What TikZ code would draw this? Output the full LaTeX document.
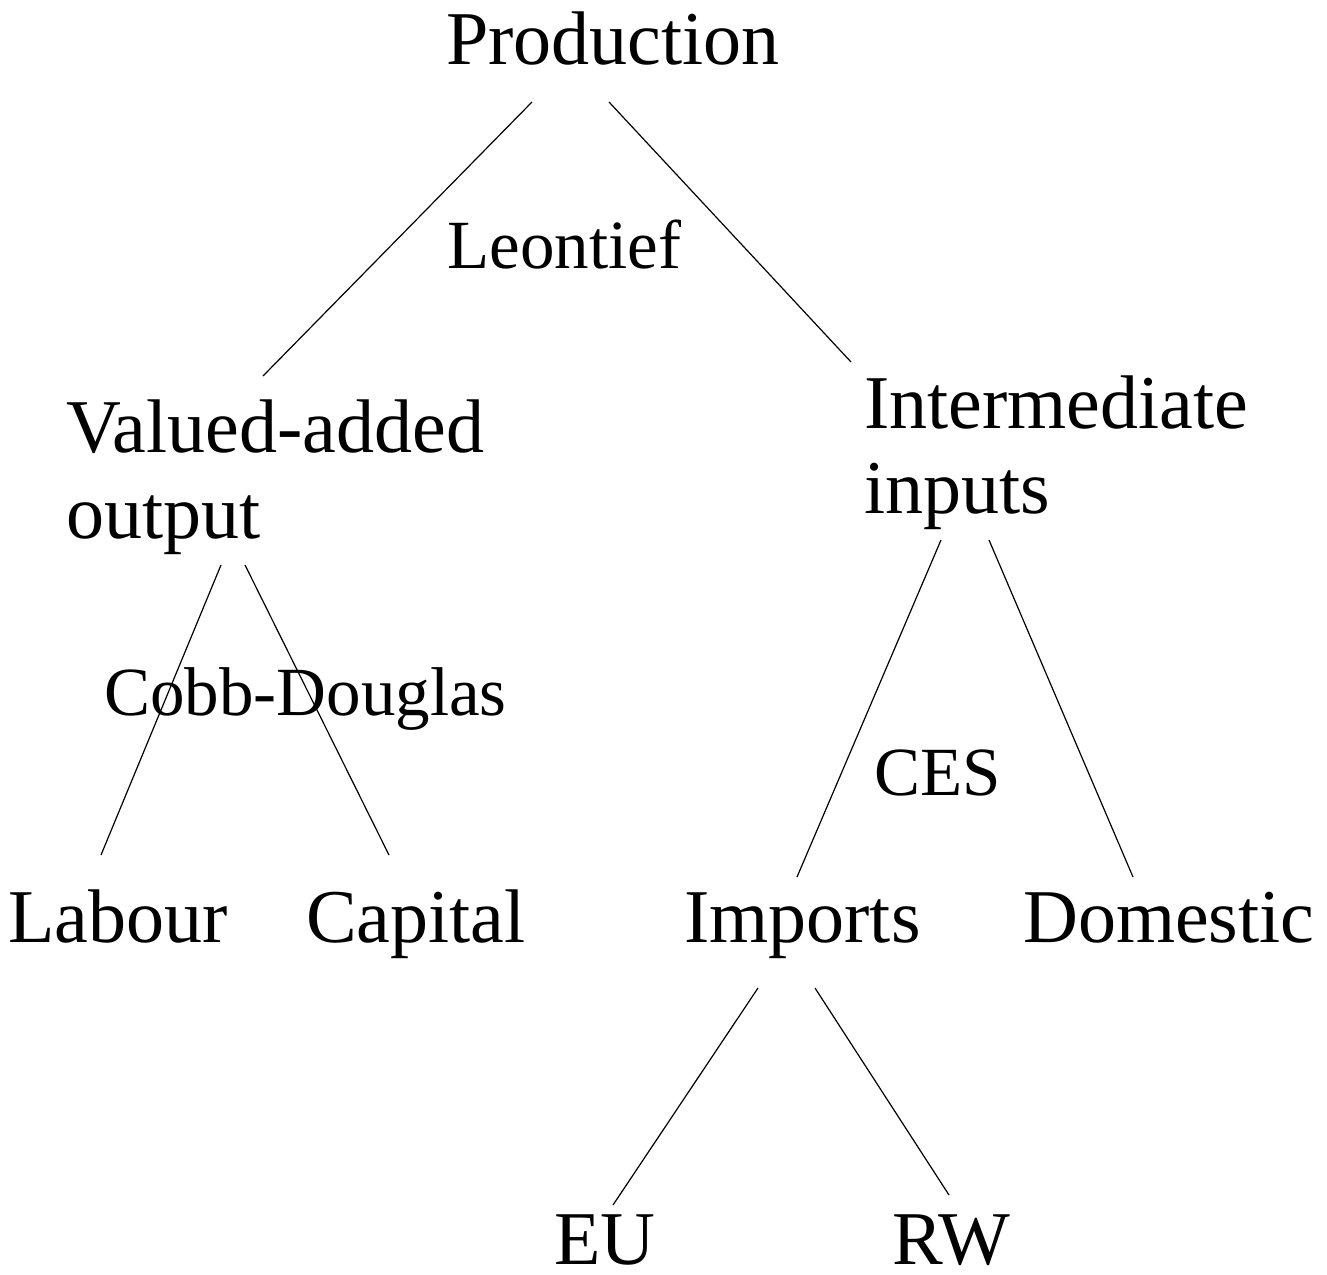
\documentclass[tikz,border=0pt]{standalone}
\usepackage{fontspec}
\setmainfont{Liberation Serif}
\begin{document}
\begin{tikzpicture}[x=1pt,y=-1pt,
  lab/.style={anchor=base west,inner sep=0pt,font=\fontsize{76}{86}\selectfont,align=left},
  rule/.style={anchor=base west,inner sep=0pt,font=\fontsize{69}{80}\selectfont},
  conn/.style={line width=1.2pt}]
\useasboundingbox (0,0) rectangle (1327,1274);
\node[lab] (prod) at (446,64) {Production};
\node[rule] (leon) at (447,268) {Leontief};
\node[lab] (va) at (66,452) {Valued-added};
\node[lab] (vo) at (66,538) {output};
\node[lab] (ii) at (864,428) {Intermediate};
\node[lab] (ip) at (864,513) {inputs};
\node[rule] (cd) at (104,715) {Cobb-Douglas};
\node[rule] (ces) at (874,795) {CES};
\node[lab] (lab) at (8,942) {Labour};
\node[lab] (cap) at (306,942) {Capital};
\node[lab] (imp) at (684,942) {Imports};
\node[lab] (dom) at (1023,942) {Domestic};
\node[lab,text depth=0pt] (eu) at (554,1264) {EU};
\node[lab,text depth=0pt] (rw) at (892,1264) {RW};
\coordinate (p1) at (532,102); \coordinate (v1) at (263,376);
\coordinate (p2) at (609,102); \coordinate (i1) at (851,362);
\coordinate (v2) at (221,565); \coordinate (l1) at (101,855);
\coordinate (v3) at (245,565); \coordinate (c1) at (389,855);
\coordinate (i2) at (941,540); \coordinate (m1) at (797,877);
\coordinate (i3) at (989,540); \coordinate (d1) at (1133,877);
\coordinate (m2) at (758,988); \coordinate (e1) at (613,1205);
\coordinate (m3) at (815,988); \coordinate (r1) at (949,1195);
\draw[conn] (p1) -- (v1);
\draw[conn] (p2) -- (i1);
\draw[conn] (v2) -- (l1);
\draw[conn] (v3) -- (c1);
\draw[conn] (i2) -- (m1);
\draw[conn] (i3) -- (d1);
\draw[conn] (m2) -- (e1);
\draw[conn] (m3) -- (r1);
\end{tikzpicture}
\end{document}
